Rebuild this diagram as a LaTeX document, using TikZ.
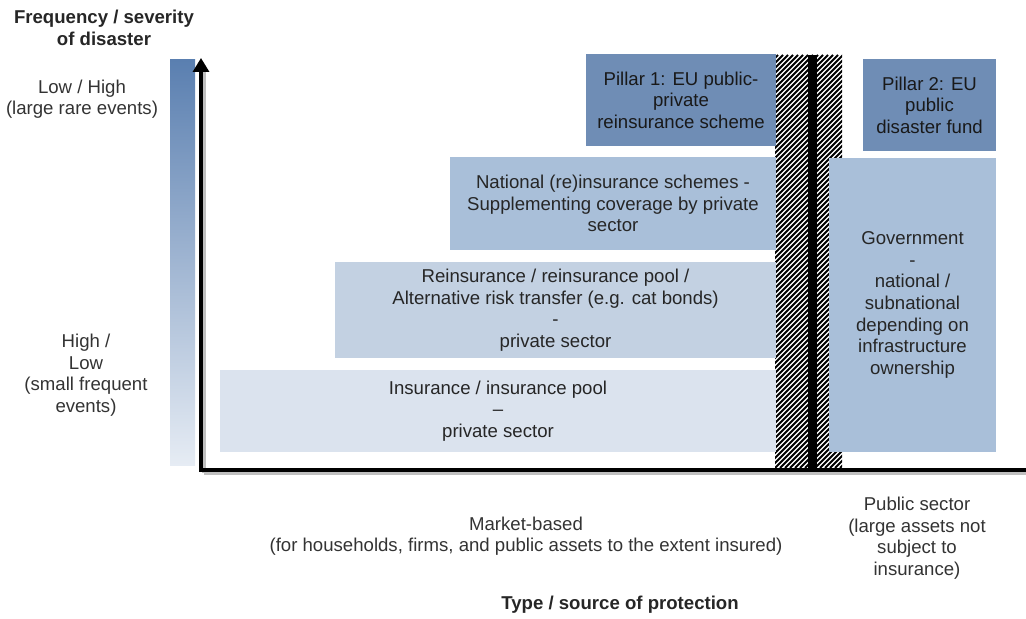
\documentclass[tikz,border=0pt]{standalone}
\usepackage{fontspec}
\setmainfont{Liberation Sans}
\usetikzlibrary{positioning,arrows.meta}
\definecolor{palebox}{HTML}{DBE3EE}
\definecolor{lightbox}{HTML}{C3D1E2}
\definecolor{midbox}{HTML}{A9BFD9}
\definecolor{darkbox}{HTML}{6F8DB5}
\definecolor{bartop}{HTML}{5A7FB0}
\definecolor{barbot}{HTML}{E6ECF4}
\definecolor{txtgray}{HTML}{333333}

\begin{document}
\begin{tikzpicture}[x=0.5pt, y=-0.5pt,
        layer/.style={rectangle, inner sep=0pt, text=black!85, align=center, font=\fontsize{9.3}{10.8}\selectfont},
        pale/.style={layer, fill=palebox},
        light/.style={layer, fill=lightbox},
        mid/.style={layer, fill=midbox},
        dark/.style={layer, fill=darkbox, text=black!90},
        caption/.style={text=txtgray, align=center, font=\fontsize{9.3}{10.8}\selectfont},
        heading/.style={caption, text=black!85, font=\fontsize{9.3}{10.8}\selectfont\bfseries}
    ]
    \useasboundingbox (0,0) rectangle (1026,619);

    % Scale bar on the left
    \shade[top color=bartop, bottom color=barbot] (170,60) rectangle (195,465);

    % Hatched divider between market and public sector
    \begin{scope}
        \clip (775,55) rectangle (842,468);
        \foreach \k in {360,365,...,850}
            \draw[line width=1pt] (\k,468) -- ++(413,-413);
    \end{scope}
    \fill[black] (808,55) rectangle (817,468);

    % Market-based layers
    \node[pale, minimum width=278pt, minimum height=41pt] (ins) at (498,411)
        {Insurance / insurance pool\\--\\private sector};
    \node[light, minimum width=220.5pt, minimum height=48pt] (reins) at (555.5,310)
        {Reinsurance / reinsurance pool /\\Alternative risk transfer (e.g. cat bonds)\\-\\private sector};
    \node[mid, minimum width=163pt, minimum height=46.5pt] (natl) at (613,203.5)
        {National (re)insurance schemes -\\Supplementing coverage by private\\sector};
    \node[dark, minimum width=95pt, minimum height=46pt] (pill1) at (681,100)
        {Pillar 1: EU public-\\private\\reinsurance scheme};

    % Public sector layers
    \node[mid, minimum width=83.5pt, minimum height=147pt] (gov) at (912.5,305)
        {Government\\-\\national /\\subnational\\depending on\\infrastructure\\ownership};
    \node[dark, minimum width=66.5pt, minimum height=46pt] (pill2) at (929.5,105)
        {Pillar 2: EU\\public\\disaster fund};

    % Axes
    \coordinate (O) at (201,470);
    \coordinate (ytop) at (201,58);
    \coordinate (xend) at (1026,470);
    \draw[line width=2pt, black!25] ([shift={(3,3)}]O) -- ([shift={(3,3)}]xend);
    \draw[line width=2pt, black!25] ([shift={(3,3)}]O) -- ([shift={(3,14)}]ytop);
    \draw[line width=1.6pt, -{Triangle[width=8pt, length=7pt]}] (O) -- (ytop);
    \draw[line width=1.6pt] ([xshift=-0.8pt]O) -- (xend);

    % Axis labels
    \node[heading] (ytitle) at (104,28) {Frequency / severity\\of disaster};
    \node[caption] (yhigh) at (82,99) {Low / High\\(large rare events)};
    \node[caption] (ylow) at (86,375) {High /\\Low\\(small frequent\\events)};
    \node[caption] (market) at (526,536) {Market-based\\(for households, firms, and public assets to the extent insured)};
    \node[caption] (public) at (917,538) {Public sector\\(large assets not\\subject to\\insurance)};
    \node[heading] (xtitle) at (620,605) {Type / source of protection};

\end{tikzpicture}
\end{document}
